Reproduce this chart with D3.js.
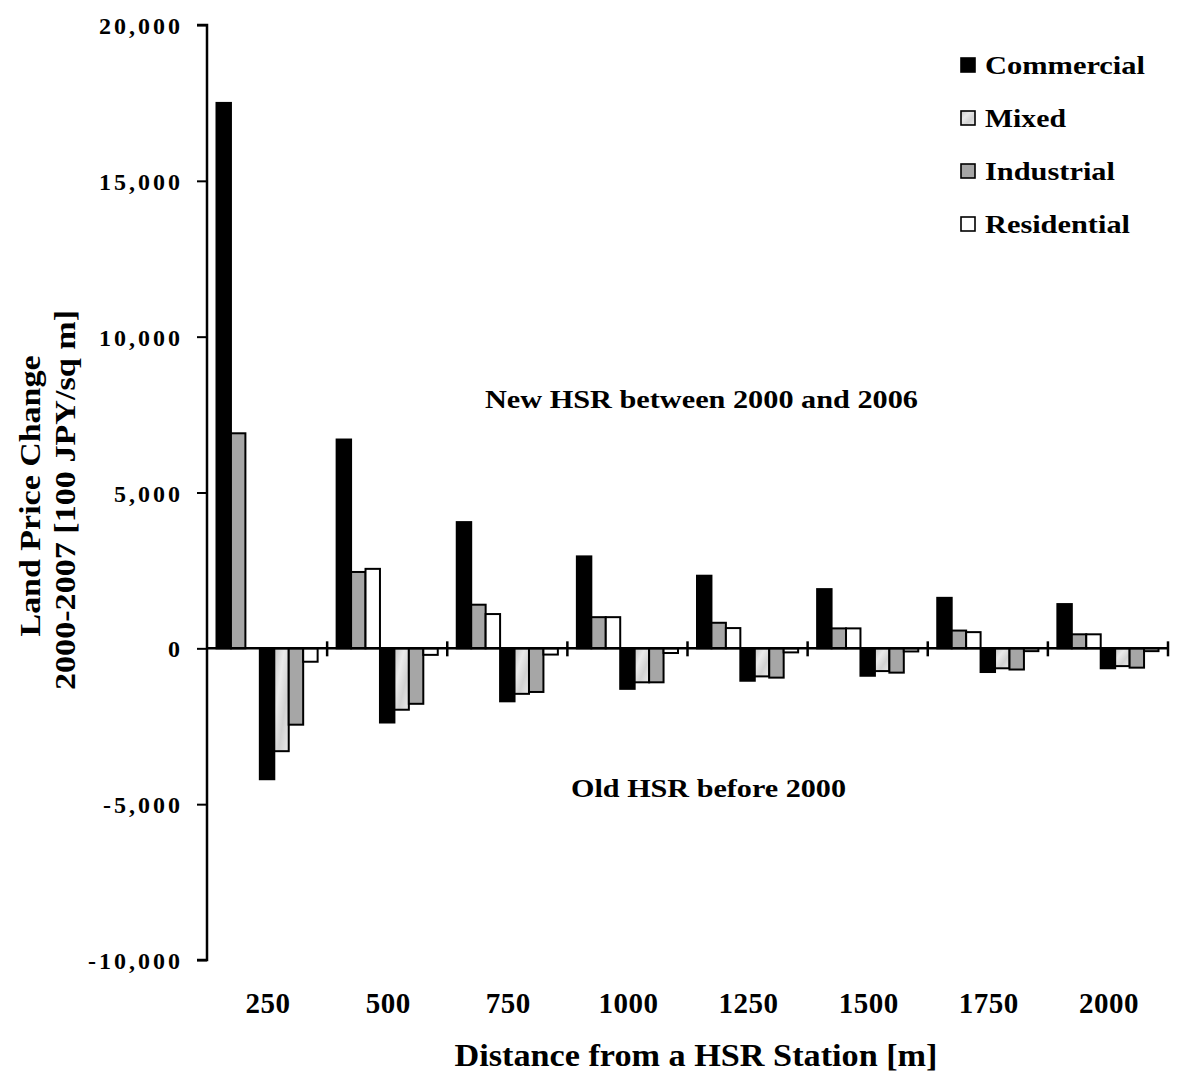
<!DOCTYPE html>
<html>
<head>
<meta charset="utf-8">
<script src="https://cdn.jsdelivr.net/npm/d3@7"></script>
<style>
  html, body { margin: 0; padding: 0; background: #fff; }
  text { font-family: "Liberation Serif", "Times New Roman", serif; font-weight: bold; fill: #000; }
</style>
</head>
<body>
<svg id="chart" width="1177" height="1072"></svg>
<script>
// ---- data ----
const categories = ["250", "500", "750", "1000", "1250", "1500", "1750", "2000"];
const newCommercial  = [17500, 6700, 4050, 2950, 2330, 1900, 1620, 1420];
const newIndustrial  = [6900, 2450, 1400, 1000, 820, 640, 570, 450];
const newResidential = [0, 2550, 1100, 1000, 650, 640, 520, 450];
const oldCommercial  = [-4200, -2380, -1700, -1300, -1040, -880, -760, -640];
const oldMixed       = [-3300, -1970, -1460, -1090, -900, -730, -640, -570];
const oldIndustrial  = [-2450, -1780, -1400, -1090, -940, -780, -680, -620];
const oldResidential = [-430, -210, -200, -150, -130, -100, -90, -90];
const yTicks = [-10000, -5000, 0, 5000, 10000, 15000, 20000];
const yTickLabels = ["-10,000", "-5,000", "0", "5,000", "10,000", "15,000", "20,000"];
const legendLabels = ["Commercial", "Mixed", "Industrial", "Residential"];

// series in slot order within each category
const series = [
  { key: "nC", type: "Commercial",  values: newCommercial },
  { key: "nI", type: "Industrial",  values: newIndustrial },
  { key: "nR", type: "Residential", values: newResidential },
  { key: "oC", type: "Commercial",  values: oldCommercial },
  { key: "oM", type: "Mixed",       values: oldMixed },
  { key: "oI", type: "Industrial",  values: oldIndustrial },
  { key: "oR", type: "Residential", values: oldResidential }
];

const svg = d3.select("#chart");
const defs = svg.append("defs");
const grad = defs.append("linearGradient").attr("id", "mixedGrad")
  .attr("x1", "0").attr("y1", "0").attr("x2", "1").attr("y2", "1");
grad.append("stop").attr("offset", "0%").attr("stop-color", "#c8c8c8");
grad.append("stop").attr("offset", "35%").attr("stop-color", "#eaeaea");
grad.append("stop").attr("offset", "65%").attr("stop-color", "#d2d2d2");
grad.append("stop").attr("offset", "100%").attr("stop-color", "#ececec");

const fills = {
  Commercial: "#000000",
  Mixed: "url(#mixedGrad)",
  Industrial: "#a6a6a6",
  Residential: "#ffffff"
};

const x0 = 207, x1 = 1168, yTop = 25, yBot = 960;
const y = d3.scaleLinear().domain([-10000, 20000]).range([yBot, yTop]);
const xCat = d3.scaleBand().domain(categories).range([x0, x1]).paddingInner(0).paddingOuter(0);
const xSlot = d3.scaleBand().domain(series.map(s => s.key))
  .range([9.5, xCat.bandwidth() - 9.5]).paddingInner(0);

// bars
const g = svg.append("g");
series.forEach(s => {
  g.selectAll(null).data(s.values.map((v, i) => ({ v, c: categories[i] })))
    .enter().filter(d => d.v !== 0)
    .append("rect")
    .attr("x", d => xCat(d.c) + xSlot(s.key))
    .attr("width", xSlot.bandwidth())
    .attr("y", d => Math.min(y(d.v), y(0)))
    .attr("height", d => Math.abs(y(d.v) - y(0)))
    .attr("fill", fills[s.type])
    .attr("stroke", "#000")
    .attr("stroke-width", 2);
});

// y axis
const yAxis = d3.axisLeft(y).tickValues(yTicks)
  .tickFormat((d, i) => yTickLabels[i]).tickSize(10).tickPadding(14);
const ya = svg.append("g").attr("transform", `translate(${x0},0)`).call(yAxis);
ya.select(".domain").attr("stroke-width", 2.5).attr("d", `M-10,${yTop}H0V${yBot}H-10`);
ya.selectAll(".tick line").attr("stroke-width", 2);
ya.selectAll(".tick text").attr("font-size", 24).attr("letter-spacing", "3px")
  .attr("font-family", "Liberation Serif").attr("font-weight", "bold").attr("dy", "0.36em");

// x axis at zero line
const boundaries = categories.map(c => xCat(c)).concat([x1]);
const xa = svg.append("g");
xa.append("line").attr("x1", x0).attr("x2", x1).attr("y1", y(0)).attr("y2", y(0))
  .attr("stroke", "#000").attr("stroke-width", 2.5);
xa.selectAll(null).data(boundaries.slice(1)).enter().append("line")
  .attr("x1", d => d).attr("x2", d => d)
  .attr("y1", y(0) - 7).attr("y2", y(0) + 8)
  .attr("stroke", "#000").attr("stroke-width", 2.5);

// category labels at bottom
svg.append("g").selectAll("text").data(categories).enter().append("text")
  .attr("x", d => xCat(d) + xCat.bandwidth() / 2 + 1)
  .attr("y", 1013)
  .attr("text-anchor", "middle")
  .attr("font-size", 29)
  .attr("letter-spacing", "0.5px")
  .text(d => d);

// axis titles
svg.append("text").attr("x", 696).attr("y", 1066).attr("text-anchor", "middle")
  .attr("font-size", 32).attr("textLength", 483).attr("lengthAdjust", "spacingAndGlyphs")
  .text("Distance from a HSR Station [m]");

svg.append("text").attr("transform", "translate(40,496) rotate(-90)")
  .attr("text-anchor", "middle").attr("font-size", 30)
  .attr("textLength", 281).attr("lengthAdjust", "spacingAndGlyphs")
  .text("Land Price Change");
svg.append("text").attr("transform", "translate(75,500) rotate(-90)")
  .attr("text-anchor", "middle").attr("font-size", 30)
  .attr("textLength", 380).attr("lengthAdjust", "spacingAndGlyphs")
  .text("2000-2007 [100 JPY/sq m]");

// annotations
svg.append("text").attr("x", 485).attr("y", 408)
  .attr("font-size", 25).attr("textLength", 433).attr("lengthAdjust", "spacingAndGlyphs")
  .text("New HSR between 2000 and 2006");
svg.append("text").attr("x", 571).attr("y", 797)
  .attr("font-size", 25).attr("textLength", 275).attr("lengthAdjust", "spacingAndGlyphs")
  .text("Old HSR before 2000");

// legend
const leg = svg.append("g");
const legY = d3.scalePoint().domain(legendLabels).range([65, 224]);
const legWidths = { Commercial: 160, Mixed: 81, Industrial: 130, Residential: 145 };
legendLabels.forEach(l => {
  leg.append("rect").attr("x", 961).attr("y", legY(l) - 7).attr("width", 14).attr("height", 14)
    .attr("fill", fills[l]).attr("stroke", "#000").attr("stroke-width", 1.6);
  leg.append("text").attr("x", 985).attr("y", legY(l) + 9)
    .attr("font-size", 26).attr("textLength", legWidths[l]).attr("lengthAdjust", "spacingAndGlyphs")
    .text(l);
});
</script>
</body>
</html>
